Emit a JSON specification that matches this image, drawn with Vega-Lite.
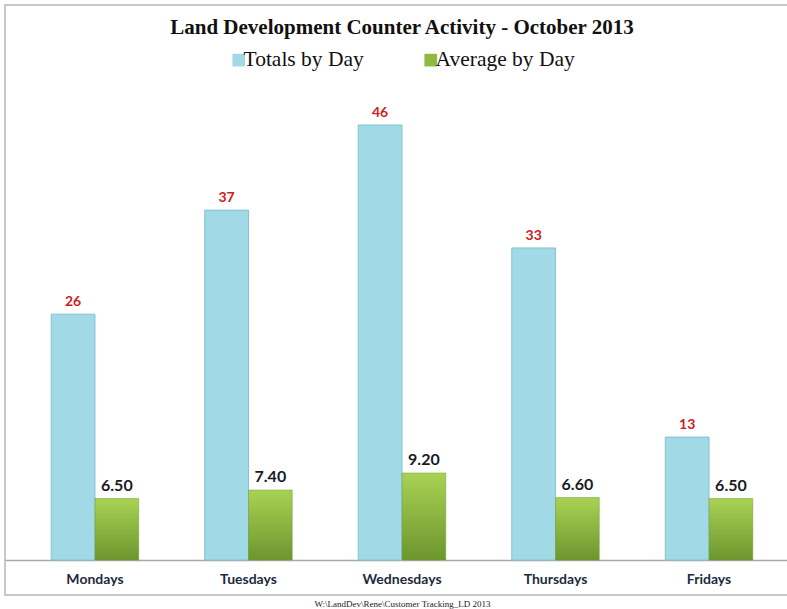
{
  "$schema": "https://vega.github.io/schema/vega-lite/v6.json",
  "width": 794,
  "height": 590,
  "padding": {"left": 5, "top": 5, "right": 0, "bottom": 14},
  "autosize": {"type": "none"},
  "background": "white",
  "config": {
    "view": {"stroke": "#c8c8c8", "strokeWidth": 2},
    "font": "Lato"
  },
  "title": {
    "text": "Land Development Counter Activity - October 2013",
    "font": "Liberation Serif",
    "fontSize": 21,
    "fontWeight": "bold",
    "color": "#111111",
    "anchor": "middle",
    "frame": "group",
    "offset": -33
  },
  "data": {
    "values": [
      {"day": "Mondays", "series": "Totals by Day", "value": 26},
      {"day": "Tuesdays", "series": "Totals by Day", "value": 37},
      {"day": "Wednesdays", "series": "Totals by Day", "value": 46},
      {"day": "Thursdays", "series": "Totals by Day", "value": 33},
      {"day": "Fridays", "series": "Totals by Day", "value": 13},
      {"day": "Mondays", "series": "Average by Day", "value": 6.5},
      {"day": "Tuesdays", "series": "Average by Day", "value": 7.4},
      {"day": "Wednesdays", "series": "Average by Day", "value": 9.2},
      {"day": "Thursdays", "series": "Average by Day", "value": 6.6},
      {"day": "Fridays", "series": "Average by Day", "value": 6.5}
    ]
  },
  "encoding": {
    "x": {
      "field": "day",
      "type": "nominal",
      "sort": ["Mondays", "Tuesdays", "Wednesdays", "Thursdays", "Fridays"],
      "scale": {"paddingInner": 0.43, "paddingOuter": 0.301},
      "axis": {
        "orient": "bottom",
        "offset": -35,
        "labelAngle": 0,
        "labelFont": "Lato",
        "labelFontWeight": "bold",
        "labelFontSize": 14,
        "labelColor": "#1f2a3f",
        "labelPadding": 12,
        "ticks": false,
        "domainColor": "#a8a8a8",
        "domainWidth": 1.5,
        "title": "W:\\LandDev\\Rene\\Customer Tracking_LD 2013",
        "titleFont": "Liberation Serif",
        "titleFontSize": 9,
        "titleFontWeight": "normal",
        "titleColor": "#222222",
        "titlePadding": 13
      }
    },
    "xOffset": {
      "field": "series",
      "type": "nominal",
      "sort": ["Totals by Day", "Average by Day"],
      "scale": {"domain": ["Totals by Day", "Average by Day"], "paddingInner": 0, "paddingOuter": 0}
    },
    "y": {
      "field": "value",
      "type": "quantitative",
      "scale": {"domain": [-3.7, 58.69], "nice": false, "zero": false},
      "axis": null
    }
  },
  "layer": [
    {
      "transform": [{"filter": "datum.series === 'Totals by Day'"}],
      "mark": {"type": "bar", "stroke": "#84c2d2", "strokeWidth": 1},
      "encoding": {
        "y2": {"datum": 0},
        "color": {
          "field": "series",
          "type": "nominal",
          "scale": {"domain": ["Totals by Day", "Average by Day"], "range": ["#a2d9e7", "#8dba3f"]},
          "legend": {
            "orient": "none",
            "legendX": 223,
            "legendY": 44,
            "direction": "horizontal",
            "title": null,
            "symbolType": "square",
            "symbolSize": 160,
            "symbolStrokeWidth": 0,
            "labelFont": "Liberation Serif",
            "labelFontSize": 21.5,
            "labelColor": "#111111",
            "labelOffset": -6,
            "columnPadding": 56
          }
        }
      }
    },
    {
      "transform": [{"filter": "datum.series === 'Average by Day'"}],
      "mark": {
        "type": "bar",
        "stroke": "#6f9a2f",
        "strokeWidth": 0.5,
        "fill": {
          "gradient": "linear",
          "x1": 0, "y1": 0, "x2": 0, "y2": 1,
          "stops": [
            {"offset": 0, "color": "#a9d254"},
            {"offset": 1, "color": "#6c962e"}
          ]
        }
      },
      "encoding": {"y2": {"datum": 0}}
    },
    {
      "transform": [{"filter": "datum.series === 'Totals by Day'"}],
      "mark": {"type": "text", "baseline": "bottom", "dy": -5, "font": "Lato", "fontWeight": "bold", "fontSize": 14, "color": "#cc2020"},
      "encoding": {"text": {"field": "value", "type": "quantitative", "format": "d"}}
    },
    {
      "transform": [{"filter": "datum.series === 'Average by Day'"}],
      "mark": {"type": "text", "baseline": "bottom", "dy": -5, "font": "Lato", "fontWeight": "bold", "fontSize": 16, "color": "#1a1a24"},
      "encoding": {"text": {"field": "value", "type": "quantitative", "format": ".2f"}}
    }
  ]
}
